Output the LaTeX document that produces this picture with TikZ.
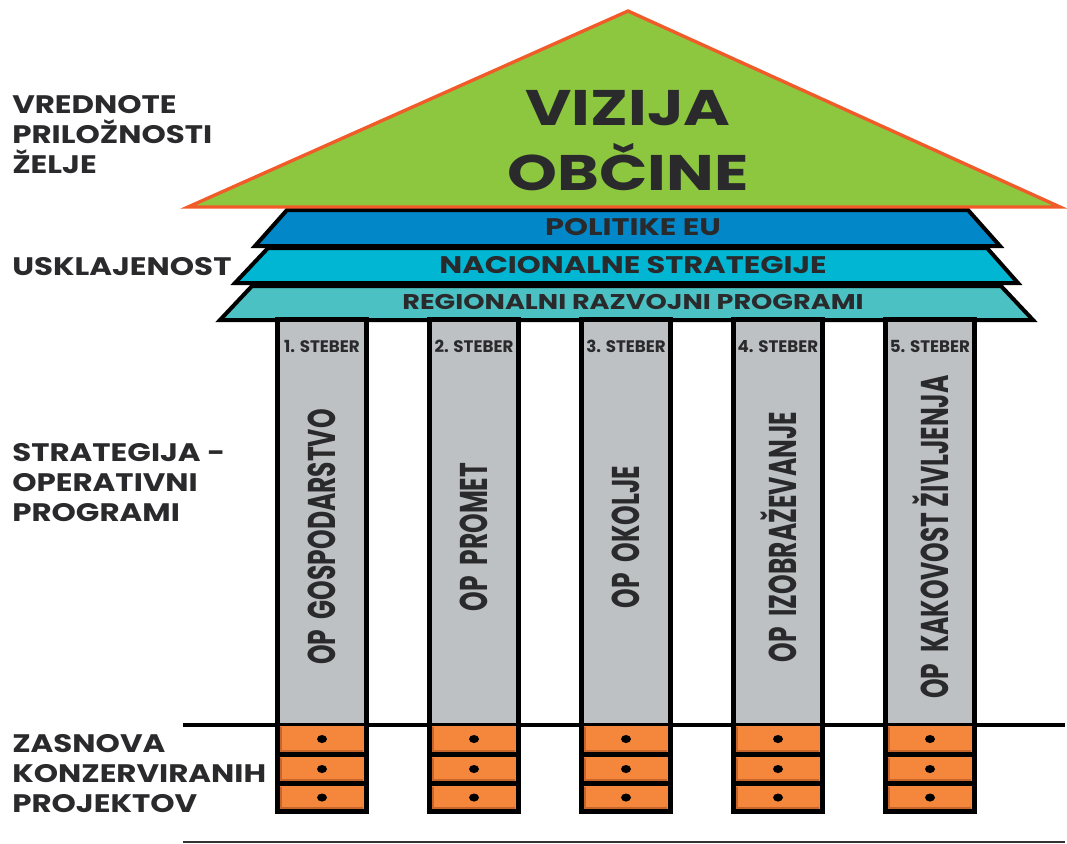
\documentclass[tikz,border=0pt]{standalone}
\usepackage{fontspec}
\setmainfont{Poppins}
\usetikzlibrary{positioning}

\definecolor{roofgreen}{HTML}{8DC63F}
\definecolor{rooforange}{HTML}{F15A29}
\definecolor{eublue}{HTML}{0288C9}
\definecolor{natcyan}{HTML}{00B6D3}
\definecolor{regteal}{HTML}{4CC1C3}
\definecolor{pillargray}{HTML}{BDC1C4}
\definecolor{brickorange}{HTML}{F4873B}
\definecolor{brickdark}{HTML}{C8652A}
\definecolor{ink}{HTML}{2A2A2C}

\newcommand{\wide}[1]{\scalebox{1.27}[1]{#1}}
\newcommand{\swide}[1]{\scalebox{1.22}[1]{#1}}

\begin{document}
\begin{tikzpicture}[x=0.75pt,y=-0.75pt,
  side/.style={anchor=base west,align=left,inner sep=0pt,text=ink,
    font=\bfseries\fontsize{19}{22.5}\selectfont},
  band/.style={draw=black,line width=3pt,line join=miter},
  bandtext/.style={anchor=base,inner sep=0pt,text=ink,font=\bfseries\fontsize{18}{18}\selectfont},
  title/.style={anchor=base,inner sep=0pt,text=ink,font=\bfseries\fontsize{37.5}{37.5}\selectfont},
  steber/.style={anchor=base,inner sep=0pt,text=ink,font=\bfseries\fontsize{12.5}{12.5}\selectfont},
  optext/.style={rotate=90,inner sep=0pt,text=ink,font=\bfseries\fontsize{29}{29}\selectfont},
  pillar/.style={draw=black,line width=3.75pt,fill=pillargray}]

  \useasboundingbox (0,0) rectangle (1067,843);

  % pasovi pod streho
  \path[band,fill=eublue] (287,210) -- (968,210) -- (1000,246) -- (255,246) -- cycle;
  \path[band,fill=natcyan] (268,248) -- (987,248) -- (1018,283) -- (235,283) -- cycle;
  \path[band,fill=regteal] (252,286) -- (1001,286) -- (1033,320) -- (220,320) -- cycle;
  \node[bandtext] (eu) at (633,235.5) {\wide{POLITIKE EU}};
  \node[bandtext] (nacional) at (633,273.5) {\wide{NACIONALNE STRATEGIJE}};
  \node[bandtext,font=\bfseries\fontsize{16}{16}\selectfont] (regional) at (633,309.5) {\wide{REGIONALNI RAZVOJNI PROGRAMI}};

  % streha
  \draw[rooforange,line width=2.5pt,fill=roofgreen] (628,11) -- (1060,207) -- (188,207) -- cycle;
  \node[title] (vizija) at (628,125) {\wide{VIZIJA}};
  \node[title] (obcine) at (628,190) {\wide{OBČINE}};

  % talna crta
  \draw[line width=3pt] (183,725) -- (1065,725);
  \draw[line width=1.2pt,black!80] (183,842) -- (1065,842);

  % stebri
  \foreach \x/\n/\t in {322/1/OP~~GOSPODARSTVO,474/2/OP~~PROMET,626/3/OP~~OKOLJE,
                        778/4/OP~~IZOBRAŽEVANJE,930/5/OP~~KAKOVOST ŽIVLJENJA} {
    \draw[pillar] (\x-44.5,319) rectangle (\x+44.5,811);
    \fill (\x-47,723) rectangle (\x+47,813);
    \foreach \ya/\yb in {726/752,757/781,786/809} {
      \fill[brickorange] (\x-42,\ya) rectangle (\x+42,\yb);
      \draw[brickdark,line width=1.2pt] (\x-41,\ya+1) -- (\x-41,\yb-1) -- (\x+41,\yb-1);
      \fill ({\x},{(\ya+\yb)/2}) ellipse (5 and 4);
    }
    \node[steber] (steber\n) at (\x,352) {\n. STEBER};
    \node[optext] (op\n) at (\x,537) {\scalebox{0.645}[1]{\t}};
  }

  % napisi na levi
  \node[side] (vrednote) at (12,173) {\swide{VREDNOTE}\\\swide{PRILOŽNOSTI}\\\swide{ŽELJE}};
  \node[side] (usklajenost) at (12,275) {\swide{USKLAJENOST}};
  \node[side] (strategija) at (12,521) {\swide{STRATEGIJA -}\\\swide{OPERATIVNI}\\\swide{PROGRAMI}};
  \node[side] (zasnova) at (12,812) {\swide{ZASNOVA}\\\swide{KONZERVIRANIH}\\\swide{PROJEKTOV}};
\end{tikzpicture}
\end{document}
